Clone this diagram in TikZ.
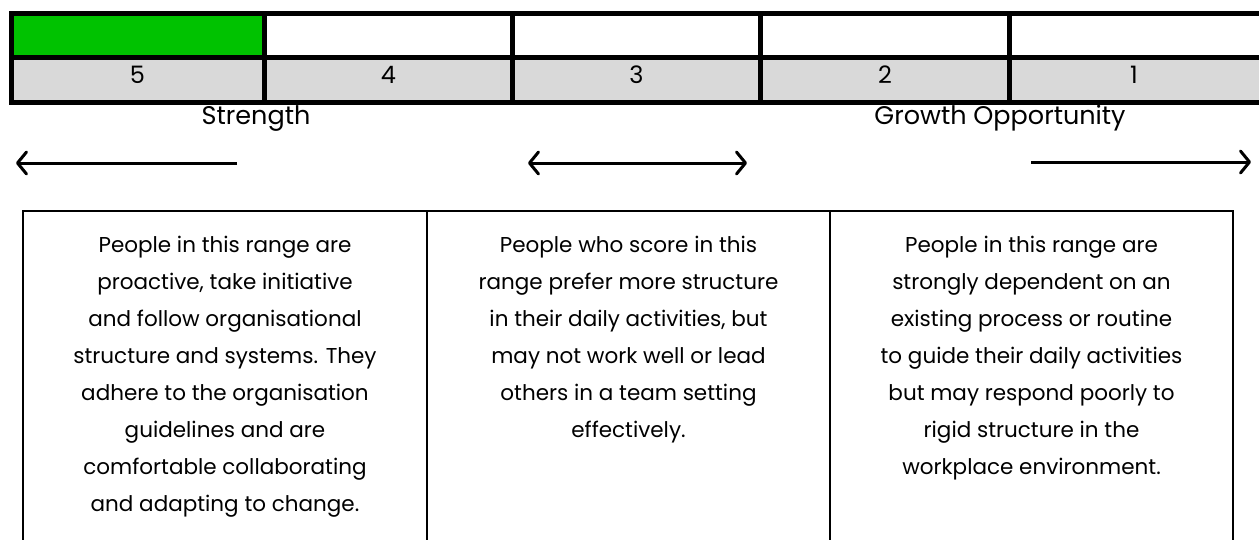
\documentclass[tikz,border=0pt]{standalone}
\usepackage{fontspec}
\setmainfont{Poppins}
\usetikzlibrary{arrows.meta}
\definecolor{barGreen}{RGB}{0,194,0}
\definecolor{barGray}{RGB}{217,217,217}
\tikzset{
  thickgrid/.style={line width=5pt, line cap=rect},
  thingrid/.style={line width=2.2pt},
  numlabel/.style={font=\fontsize{24}{26}\selectfont, anchor=center, inner sep=0pt},
  headlabel/.style={font=\fontsize{25.5}{28}\selectfont, anchor=base, inner sep=0pt},
  bodytext/.style={font=\fontsize{21.5}{37}\selectfont, align=center, anchor=north, inner sep=0pt},
  scalearrow/.style={line width=3pt, arrows={-Straight Barb[length=9pt, width=22pt, line cap=round, line join=round]}},
}
\begin{document}
\begin{tikzpicture}[x=1pt, y=-1pt]
\useasboundingbox (0,0) rectangle (1259,539);
% top bar cells
\fill[barGreen] (11,13.5) rectangle (264.5,57.5);
\fill[barGray] (11,57.5) rectangle (1262,102);
\draw[thickgrid] (11,13.5) rectangle (1262,102);
\draw[thickgrid] (11,57.5) -- (1262,57.5);
\foreach \x in {264.5,512.5,760.5,1009.5} \draw[thickgrid] (\x,13.5) -- (\x,102);
\node[numlabel] (n5) at (137.5,75) {5};
\node[numlabel] (n4) at (388.5,75) {4};
\node[numlabel] (n3) at (636.5,75) {3};
\node[numlabel] (n2) at (885,75) {2};
\node[numlabel] (n1) at (1134,75) {1};
% headings
\node[headlabel] (str) at (256,124) {Strength};
\node[headlabel] (gro) at (1000,124) {Growth Opportunity};
% arrows
\coordinate (a1s) at (237,163); \coordinate (a1e) at (16,163);
\coordinate (a2s) at (528,163); \coordinate (a2e) at (747,163);
\coordinate (a3s) at (1031,162); \coordinate (a3e) at (1251,162);
\draw[scalearrow] (a1s) -- (a1e);
\draw[scalearrow, arrows={Straight Barb[length=9pt, width=22pt, line cap=round, line join=round]-Straight Barb[length=9pt, width=22pt, line cap=round, line join=round]}] (a2s) -- (a2e);
\draw[scalearrow] (a3s) -- (a3e);
% lower boxes
\draw[thingrid] (23,560) -- (23,211) -- (1233,211) -- (1233,560);
\draw[thingrid] (427,211) -- (427,560);
\draw[thingrid] (830,211) -- (830,560);
\node[bodytext] (t1) at (225,236) {People in this range are\\proactive, take initiative\\and follow organisational\\structure and systems. They\\adhere to the organisation\\guidelines and are\\comfortable collaborating\\and adapting to change.};
\node[bodytext] (t2) at (628.5,236) {People who score in this\\range prefer more structure\\in their daily activities, but\\may not work well or lead\\others in a team setting\\effectively.};
\node[bodytext] (t3) at (1031.5,236) {People in this range are\\strongly dependent on an\\existing process or routine\\to guide their daily activities\\but may respond poorly to\\rigid structure in the\\workplace environment.};
\end{tikzpicture}
\end{document}
